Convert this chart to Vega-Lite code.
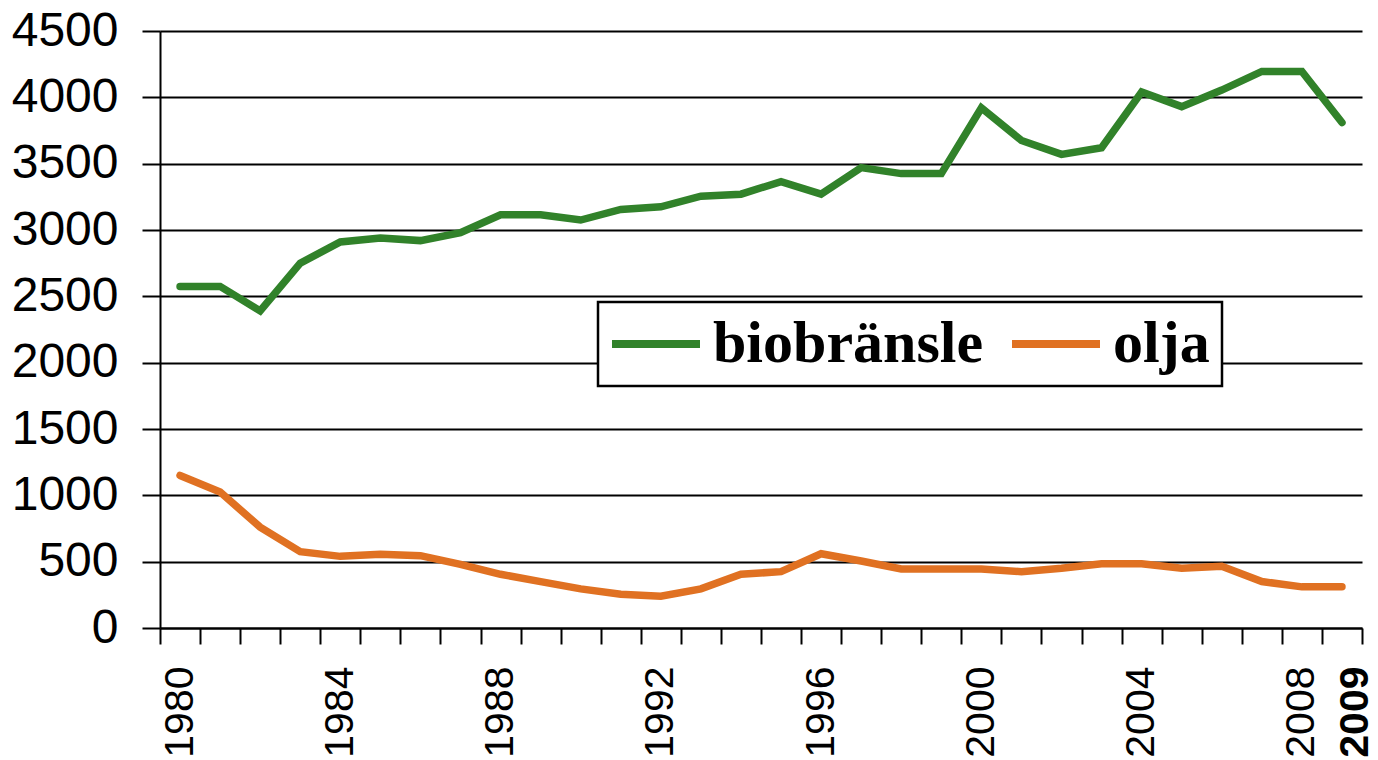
{
  "$schema": "https://vega.github.io/schema/vega-lite/v6.json",
  "width": 1202,
  "height": 597,
  "autosize": {"type": "none"},
  "padding": {"left": 160, "top": 31, "right": 16, "bottom": 132},
  "background": "white",
  "config": {"view": {"stroke": null}, "legend": {"strokeWidth": 2.5}},
  "data": {
    "values": [
      {"year": 1980, "series": "biobränsle", "value": 2575},
      {"year": 1981, "series": "biobränsle", "value": 2575},
      {"year": 1982, "series": "biobränsle", "value": 2390},
      {"year": 1983, "series": "biobränsle", "value": 2750},
      {"year": 1984, "series": "biobränsle", "value": 2910},
      {"year": 1985, "series": "biobränsle", "value": 2940},
      {"year": 1986, "series": "biobränsle", "value": 2920},
      {"year": 1987, "series": "biobränsle", "value": 2980},
      {"year": 1988, "series": "biobränsle", "value": 3115},
      {"year": 1989, "series": "biobränsle", "value": 3115},
      {"year": 1990, "series": "biobränsle", "value": 3075},
      {"year": 1991, "series": "biobränsle", "value": 3155},
      {"year": 1992, "series": "biobränsle", "value": 3175},
      {"year": 1993, "series": "biobränsle", "value": 3255},
      {"year": 1994, "series": "biobränsle", "value": 3270},
      {"year": 1995, "series": "biobränsle", "value": 3365},
      {"year": 1996, "series": "biobränsle", "value": 3270},
      {"year": 1997, "series": "biobränsle", "value": 3470},
      {"year": 1998, "series": "biobränsle", "value": 3425},
      {"year": 1999, "series": "biobränsle", "value": 3425},
      {"year": 2000, "series": "biobränsle", "value": 3920},
      {"year": 2001, "series": "biobränsle", "value": 3675},
      {"year": 2002, "series": "biobränsle", "value": 3570},
      {"year": 2003, "series": "biobränsle", "value": 3620},
      {"year": 2004, "series": "biobränsle", "value": 4040},
      {"year": 2005, "series": "biobränsle", "value": 3930},
      {"year": 2006, "series": "biobränsle", "value": 4055},
      {"year": 2007, "series": "biobränsle", "value": 4195},
      {"year": 2008, "series": "biobränsle", "value": 4195},
      {"year": 2009, "series": "biobränsle", "value": 3810},
      {"year": 1980, "series": "olja", "value": 1150},
      {"year": 1981, "series": "olja", "value": 1025},
      {"year": 1982, "series": "olja", "value": 760},
      {"year": 1983, "series": "olja", "value": 575},
      {"year": 1984, "series": "olja", "value": 540},
      {"year": 1985, "series": "olja", "value": 555},
      {"year": 1986, "series": "olja", "value": 545},
      {"year": 1987, "series": "olja", "value": 480},
      {"year": 1988, "series": "olja", "value": 405},
      {"year": 1989, "series": "olja", "value": 350},
      {"year": 1990, "series": "olja", "value": 295},
      {"year": 1991, "series": "olja", "value": 255},
      {"year": 1992, "series": "olja", "value": 240},
      {"year": 1993, "series": "olja", "value": 295},
      {"year": 1994, "series": "olja", "value": 405},
      {"year": 1995, "series": "olja", "value": 425},
      {"year": 1996, "series": "olja", "value": 560},
      {"year": 1997, "series": "olja", "value": 505},
      {"year": 1998, "series": "olja", "value": 445},
      {"year": 1999, "series": "olja", "value": 445},
      {"year": 2000, "series": "olja", "value": 445},
      {"year": 2001, "series": "olja", "value": 425},
      {"year": 2002, "series": "olja", "value": 450},
      {"year": 2003, "series": "olja", "value": 485},
      {"year": 2004, "series": "olja", "value": 485},
      {"year": 2005, "series": "olja", "value": 450},
      {"year": 2006, "series": "olja", "value": 465},
      {"year": 2007, "series": "olja", "value": 350},
      {"year": 2008, "series": "olja", "value": 310},
      {"year": 2009, "series": "olja", "value": 310}
    ]
  },
  "mark": {"type": "line", "strokeWidth": 7.5, "strokeCap": "round", "clip": false},
  "encoding": {
    "x": {
      "field": "year",
      "type": "ordinal",
      "bandPosition": 0.5,
      "scale": {"type": "band", "paddingInner": 0, "paddingOuter": 0},
      "axis": {
        "title": null,
        "grid": false,
        "tickBand": "extent",
        "labelAngle": -90,
        "labelFont": "Liberation Sans",
        "labelFontSize": 41,
        "labelColor": "black",
        "labelPadding": 22,
        "labelOverlap": false,
        "labelExpr": "(datum.value - 1980) % 4 == 0 || datum.value == 2009 ? datum.label : ''",
        "labelFontWeight": {"condition": {"test": "datum.value == 2009", "value": "bold"}, "value": "normal"},
        "labelOffset": {"condition": {"test": "datum.value == 2009", "value": 14}, "value": 0},
        "tickSize": 16,
        "tickColor": "black",
        "tickWidth": 2,
        "domainColor": "black",
        "domainWidth": 2
      }
    },
    "y": {
      "field": "value",
      "type": "quantitative",
      "scale": {"domain": [0, 4500], "nice": false},
      "axis": {
        "title": null,
        "format": "d",
        "values": [0, 500, 1000, 1500, 2000, 2500, 3000, 3500, 4000, 4500],
        "grid": true,
        "gridColor": "black",
        "gridWidth": 2,
        "gridOpacity": 1,
        "tickSize": 18,
        "tickColor": "black",
        "tickWidth": 2,
        "domainColor": "black",
        "domainWidth": 2,
        "labelFont": "Liberation Sans",
        "labelFontSize": 48,
        "labelColor": "black",
        "labelPadding": 24
      }
    },
    "color": {
      "field": "series",
      "type": "nominal",
      "scale": {"domain": ["biobränsle", "olja"], "range": ["#31822A", "#E07122"]},
      "legend": {
        "title": null,
        "orient": "none",
        "legendX": 438,
        "legendY": 271,
        "direction": "horizontal",
        "symbolType": "M-2,0H2",
        "symbolSize": 1936,
        "symbolStrokeWidth": 8,
        "symbolOffset": 16,
        "labelFont": "Liberation Serif",
        "labelFontSize": 60,
        "labelFontWeight": "bold",
        "labelColor": "black",
        "labelOffset": 27,
        "labelLimit": 500,
        "columnPadding": 12,
        "padding": 12,
        "strokeColor": "black",
        "fillColor": "white"
      }
    }
  }
}
